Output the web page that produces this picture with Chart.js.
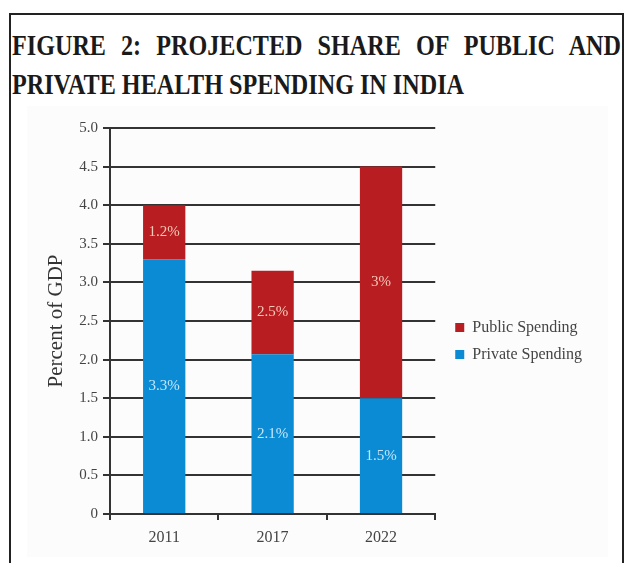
<!DOCTYPE html>
<html>
<head>
<meta charset="utf-8">
<script src="https://cdn.jsdelivr.net/npm/chart.js@4.4.1/dist/chart.umd.min.js"></script>
<style>
  html, body { margin: 0; padding: 0; background: #fff; }
  #page { position: relative; width: 624px; height: 563px; overflow: hidden; }
  #frame { position: absolute; left: 9px; top: 13px; width: 615px; height: 620px; border: 2px solid #222; box-sizing: border-box; }
  #shade { position: absolute; left: 27px; top: 106px; width: 581px; height: 451px; background: #fcfcfc; }
  .title-line { position: absolute; left: 12px; font: bold 29px "Liberation Serif", serif; line-height: 39px; color: #1a1a1a; transform-origin: 0 0; white-space: nowrap; }
  #line1 { top: 26px; text-align: justify; text-align-last: justify; white-space: normal; }
  #line2 { top: 65px; }
  #chart { position: absolute; left: 0; top: 0; }
</style>
</head>
<body>
<div id="page">
  <div id="frame"></div>
  <div id="shade"></div>
  <div class="title-line" id="line1"></div>
  <div class="title-line" id="line2"></div>
  <canvas id="chart" width="624" height="563"></canvas>
</div>
<script>
const titleLines = ['FIGURE 2: PROJECTED SHARE OF PUBLIC AND', 'PRIVATE HEALTH SPENDING IN INDIA'];

const years = ['2011', '2017', '2022'];
const privateSpending = [3.3, 2.07, 1.5];
const publicSpending = [0.7, 1.08, 3.0];
const privateLabels = ['3.3%', '2.1%', '1.5%'];
const publicLabels = ['1.2%', '2.5%', '3%'];
const yTickLabels = ['0', '0.5', '1.0', '1.5', '2.0', '2.5', '3.0', '3.5', '4.0', '4.5', '5.0'];

const serif = '"Liberation Serif", "DejaVu Serif", serif';

// title: the original is a condensed bold face, so squeeze a normal bold serif to fit
const measure = document.createElement('canvas').getContext('2d');
measure.font = 'bold 29px "Liberation Serif"';
const squeeze = 452 / measure.measureText(titleLines[1]).width;
const line1 = document.getElementById('line1');
const line2 = document.getElementById('line2');
line1.textContent = titleLines[0];
line2.textContent = titleLines[1];
line1.style.width = (609 / squeeze) + 'px';
line1.style.transform = `scaleX(${squeeze})`;
line2.style.transform = `scaleX(${squeeze})`;

const barLabels = {
  id: 'barLabels',
  afterDatasetsDraw(chart) {
    const { ctx } = chart;
    ctx.save();
    ctx.font = '15px ' + serif;
    ctx.textAlign = 'center';
    ctx.textBaseline = 'middle';
    chart.data.datasets.forEach((ds, di) => {
      chart.getDatasetMeta(di).data.forEach((bar, i) => {
        ctx.fillStyle = ds.labelColor;
        ctx.fillText(ds.valueLabels[i], bar.x, (bar.y + bar.base) / 2);
      });
    });
    ctx.restore();
  }
};

new Chart(document.getElementById('chart'), {
  type: 'bar',
  data: {
    labels: years,
    datasets: [
      {
        label: 'Private Spending',
        data: privateSpending,
        backgroundColor: '#0a8bd3',
        valueLabels: privateLabels,
        labelColor: '#c4e6f8',
      },
      {
        label: 'Public Spending',
        data: publicSpending,
        backgroundColor: '#b81d22',
        valueLabels: publicLabels,
        labelColor: '#f4c9b8',
      },
    ],
  },
  options: {
    responsive: false,
    devicePixelRatio: 1,
    animation: false,
    datasets: { bar: { categoryPercentage: 1, barPercentage: 0.39 } },
    layout: { padding: { left: 35, top: 128, bottom: 9, right: 32 } },
    scales: {
      x: {
        stacked: true,
        grid: { drawOnChartArea: false, drawTicks: true, tickLength: 6, offset: true, color: '#333', lineWidth: 2 },
        border: { display: true, color: '#333', width: 2 },
        ticks: { color: '#444', font: { family: serif, size: 16 }, padding: 8 },
        afterFit: (s) => { s.height = 40; },
      },
      y: {
        stacked: true,
        min: 0,
        max: 5,
        ticks: {
          stepSize: 0.5,
          callback: (v, i) => yTickLabels[i],
          color: '#444',
          font: { family: serif, size: 15 },
          padding: 5,
        },
        grid: { color: '#333', lineWidth: 2, tickLength: 7 },
        border: { display: true, color: '#333', width: 2 },
        title: {
          display: true,
          text: 'Percent of GDP',
          color: '#333',
          font: { family: serif, size: 21 },
          padding: { top: 9, bottom: 0 },
        },
        afterFit: (s) => { s.width = 75; },
      },
      gap: {
        type: 'linear',
        position: 'right',
        grid: { display: false },
        ticks: { display: false },
        border: { display: false },
        afterFit: (s) => { s.width = 9; },
      },
    },
    plugins: {
      legend: {
        position: 'right',
        reverse: true,
        maxWidth: 220,
        labels: {
          boxWidth: 9,
          boxHeight: 9,
          padding: 11,
          color: '#444',
          font: { family: serif, size: 16 },
        },
      },
      tooltip: { enabled: false },
    },
  },
  plugins: [barLabels],
});
</script>
</body>
</html>
